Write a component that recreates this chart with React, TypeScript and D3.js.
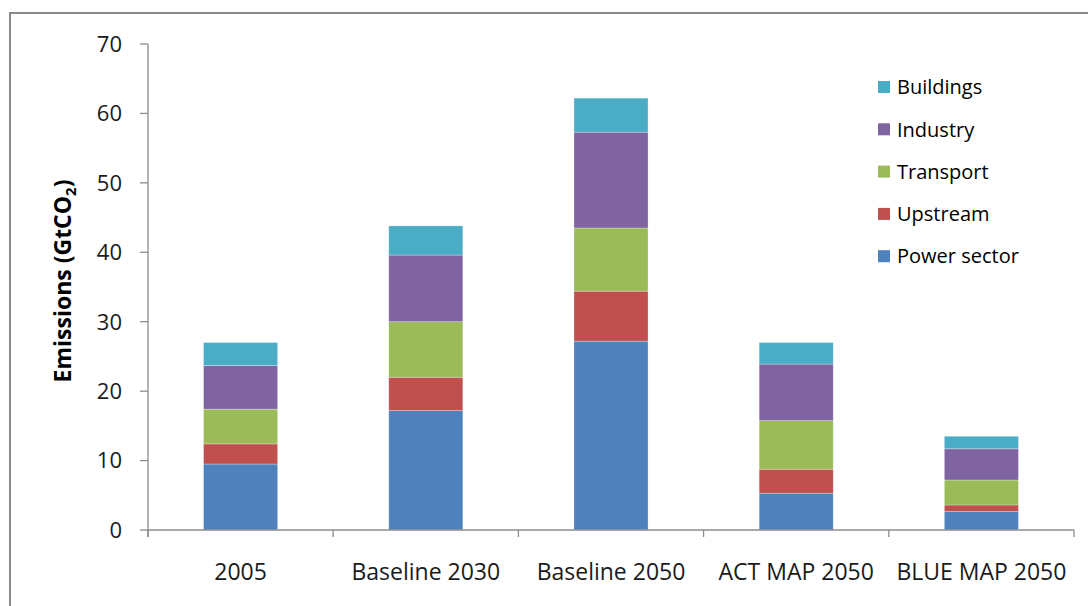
import React from "react";
import * as d3 from "d3";

const categories = ["2005", "Baseline 2030", "Baseline 2050", "ACT MAP 2050", "BLUE MAP 2050"];
const seriesKeys = ["Power sector", "Upstream", "Transport", "Industry", "Buildings"];
const powerSector = [9.5, 17.2, 27.2, 5.3, 2.65];
const upstream = [2.9, 4.8, 7.2, 3.45, 0.95];
const transport = [5.0, 8.0, 9.1, 7.0, 3.6];
const industry = [6.3, 9.6, 13.8, 8.15, 4.5];
const buildings = [3.3, 4.2, 4.9, 3.1, 1.8];
const seriesColors = ["#4F81BD", "#C0504D", "#9BBB59", "#8064A2", "#4BACC6"];
const yTicks = [0, 10, 20, 30, 40, 50, 60, 70];

const W = 1088;
const H = 606;
const FONT = "'Open Sans', Lato, sans-serif";

export default function App() {
  const rows = categories.map((c, i) => ({
    category: c,
    "Power sector": powerSector[i],
    Upstream: upstream[i],
    Transport: transport[i],
    Industry: industry[i],
    Buildings: buildings[i],
  }));
  const stacked = d3.stack<any>().keys(seriesKeys)(rows);

  const x = d3.scaleBand<string>().domain(categories).range([148, 1074]).paddingInner(0.6).paddingOuter(0.3);
  const y = d3.scaleLinear().domain([0, 70]).range([530, 44]);
  const step = x.step();
  const x0 = x.range()[0];
  const axisColor = "#8c8c8c";

  // legend lists the top series first
  const legendOrder = [...seriesKeys].reverse();

  return (
    <svg width={W} height={H} style={{ position: "absolute", left: 0, top: 0, background: "#fff" }}>
      <rect x={10} y={13} width={W + 20} height={H + 20} fill="#fff" stroke="#8a8a8a" strokeWidth={2} />

      {stacked.map((layer, li) => (
        <g key={layer.key} fill={seriesColors[li]}>
          {layer.map((d, i) => (
            <rect
              key={i}
              x={x(categories[i])}
              y={y(d[1])}
              width={x.bandwidth()}
              height={y(d[0]) - y(d[1])}
              stroke="#ffffff"
              strokeOpacity={0.35}
              strokeWidth={0.8}
            />
          ))}
        </g>
      ))}

      {/* y axis */}
      <line x1={148} x2={148} y1={y(70)} y2={y(0) + 7} stroke={axisColor} strokeWidth={1.3} />
      {yTicks.map((t) => (
        <g key={t}>
          <line x1={140} x2={148} y1={y(t)} y2={y(t)} stroke={axisColor} strokeWidth={1.3} />
          <text x={122} y={y(t)} dy="0.36em" textAnchor="end" fontFamily={FONT} fontSize={22} fill="#1a1a1a">
            {t}
          </text>
        </g>
      ))}

      {/* x axis */}
      <line x1={148} x2={1074} y1={y(0)} y2={y(0)} stroke={axisColor} strokeWidth={1.3} />
      {d3.range(categories.length + 1).map((i) => (
        <line key={i} x1={x0 + i * step} x2={x0 + i * step} y1={y(0)} y2={y(0) + 7} stroke={axisColor} strokeWidth={1.3} />
      ))}
      {categories.map((c) => (
        <text key={c} x={(x(c) ?? 0) + x.bandwidth() / 2} y={580} textAnchor="middle" fontFamily={FONT} fontSize={23} fill="#1a1a1a">
          {c}
        </text>
      ))}

      {/* y axis title */}
      <text
        transform={`translate(71, 281) rotate(-90)`}
        textAnchor="middle"
        fontFamily={FONT}
        fontSize={23}
        fontWeight="bold"
        fill="#000"
      >
        Emissions (GtCO<tspan fontSize={15} dy={5}>2</tspan><tspan dy={-5}>)</tspan>
      </text>

      {/* legend */}
      {legendOrder.map((k, i) => {
        const cy = 87 + i * 42.3;
        const ci = seriesKeys.indexOf(k);
        return (
          <g key={k}>
            <rect x={878} y={cy - 6} width={12} height={12} fill={seriesColors[ci]} />
            <text x={897} y={cy} dy="0.36em" fontFamily={FONT} fontSize={20} fill="#000">
              {k}
            </text>
          </g>
        );
      })}
    </svg>
  );
}
